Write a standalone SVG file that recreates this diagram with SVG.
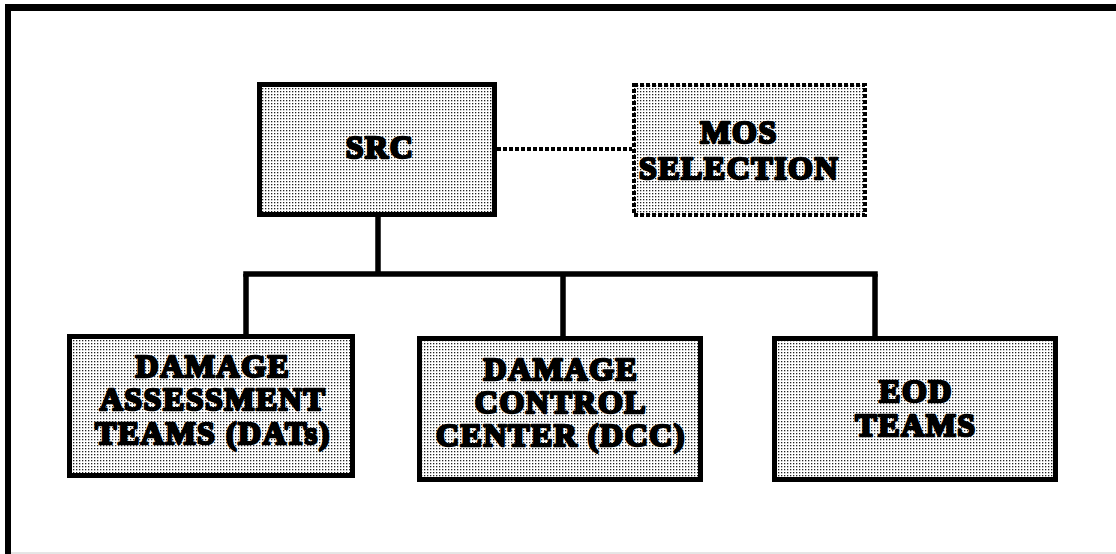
<svg xmlns="http://www.w3.org/2000/svg" width="1116" height="554" viewBox="0 0 1116 554">
  <defs>
    <pattern id="stipple" width="3" height="3" patternUnits="userSpaceOnUse">
      <rect width="3" height="3" fill="#ffffff"/>
      <rect x="1" y="1" width="1.3" height="1.3" fill="#222222"/>
    </pattern>
    <style>
      .box { fill: url(#stipple); stroke: #000; stroke-width: 5; }
      .dotbox { fill: url(#stipple); stroke: #000; stroke-width: 4; stroke-dasharray: 4 2; }
      .lbl { font-family: "Liberation Serif", "DejaVu Serif", serif; font-weight: bold; font-size: 32px; letter-spacing: 1.5px; fill: #000; stroke: #000; stroke-width: 2.5; stroke-linejoin: round; text-anchor: middle; }
      .wire { stroke: #000; stroke-width: 5.5; fill: none; }
      .dotwire { stroke: #000; stroke-width: 4; fill: none; stroke-dasharray: 4 2; }
    </style>
  </defs>
  <rect width="1116" height="554" fill="#ffffff"/>
  <!-- frame -->
  <rect x="5" y="4" width="1111" height="7" fill="#000"/>
  <rect x="5" y="4" width="6" height="550" fill="#000"/>
  <line x1="11" y1="553" x2="1116" y2="553" stroke="#cccccc" stroke-width="1"/>

  <g id="connectors">
    <line class="wire" x1="378" y1="217" x2="378" y2="274"/>
    <line class="wire" x1="243.25" y1="274" x2="877.75" y2="274"/>
    <line class="wire" x1="246" y1="274" x2="246" y2="335"/>
    <line class="wire" x1="563" y1="274" x2="563" y2="337"/>
    <line class="wire" x1="875" y1="274" x2="875" y2="337"/>
    <line class="dotwire" x1="497" y1="149" x2="632" y2="149"/>
  </g>

  <g id="src">
    <rect class="box" x="259.5" y="84.5" width="235" height="130"/>
    <text class="lbl" x="380" y="158">SRC</text>
  </g>

  <g id="mos">
    <rect class="dotbox" x="634" y="85" width="231" height="130"/>
    <text class="lbl" x="739" y="143">MOS</text>
    <text class="lbl" x="739" y="179">SELECTION</text>
  </g>

  <g id="dats">
    <rect class="box" x="69.5" y="336.5" width="283" height="139"/>
    <text class="lbl" x="213" y="377">DAMAGE</text>
    <text class="lbl" x="213" y="410">ASSESSMENT</text>
    <text class="lbl" x="213" y="444">TEAMS (DATs)</text>
  </g>

  <g id="dcc">
    <rect class="box" x="419.5" y="338.5" width="281" height="141"/>
    <text class="lbl" x="561" y="380">DAMAGE</text>
    <text class="lbl" x="561" y="413">CONTROL</text>
    <text class="lbl" x="561" y="446">CENTER (DCC)</text>
  </g>

  <g id="eod">
    <rect class="box" x="774.5" y="338.5" width="281" height="141"/>
    <text class="lbl" x="916" y="402">EOD</text>
    <text class="lbl" x="916" y="436">TEAMS</text>
  </g>
</svg>
